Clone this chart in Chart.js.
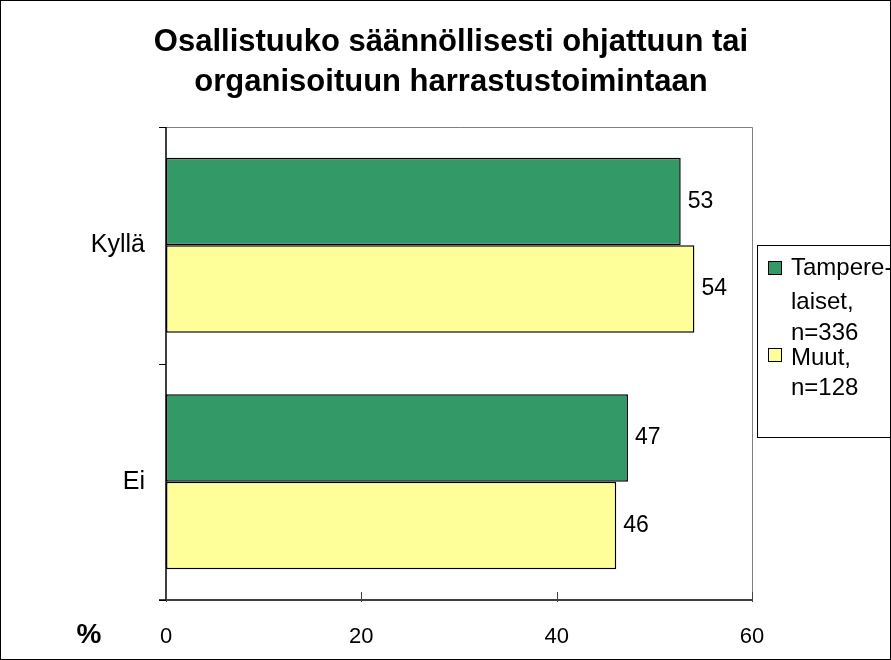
<!DOCTYPE html>
<html>
<head>
<meta charset="utf-8">
<script src="https://cdn.jsdelivr.net/npm/chart.js@4"></script>
<style>
  html, body { margin: 0; padding: 0; background: #fff; }
  #wrap { width: 891px; height: 660px; }
</style>
</head>
<body>
<div id="wrap"><canvas id="chart" width="891" height="660"></canvas></div>
<script>
// Data
const categories = ['Kyllä', 'Ei'];
const tampere = [52.7, 47.3];
const muut = [54.1, 46.1];
const seriesNames = [['Tampere-', 'laiset,', 'n=336'], ['Muut,', 'n=128']];
const xTicks = [0, 20, 40, 60];
const titleLines = ['Osallistuuko säännöllisesti ohjattuun tai', 'organisoituun harrastustoimintaan'];

const GREEN = '#339966', YELLOW = '#FFFF99';
const FONT = '"Liberation Sans", Arial, sans-serif';

// frame, title, axis ticks, value labels, legend
const decor = {
    id: 'decor',
    beforeDraw(chart) {
        const c = chart.ctx;
        c.save();
        c.fillStyle = '#fff';
        c.fillRect(0, 0, chart.width, chart.height);
        c.restore();
    },
    afterDraw(chart) {
        const c = chart.ctx, a = chart.chartArea;
        const xs = chart.scales.x;
        c.save();
        // plot border (top/right grey)
        c.strokeStyle = '#808080';
        c.lineWidth = 1;
        c.beginPath();
        c.moveTo(a.left, a.top + 0.5); c.lineTo(a.right + 0.5, a.top + 0.5); c.lineTo(a.right + 0.5, a.bottom);
        c.stroke();
        // axes
        c.strokeStyle = '#000';
        c.lineWidth = 1.5;
        c.beginPath();
        c.moveTo(a.left, a.top); c.lineTo(a.left, a.bottom);
        c.moveTo(a.left - 7, a.bottom); c.lineTo(a.right, a.bottom);
        c.stroke();
        // x ticks (inside)
        c.strokeStyle = '#444';
        c.lineWidth = 1;
        xTicks.forEach(v => {
            const px = Math.round(xs.getPixelForValue(v)) + 0.5;
            c.beginPath(); c.moveTo(px, a.bottom - 8); c.lineTo(px, a.bottom + 2); c.stroke();
        });
        // y ticks at category boundaries
        c.strokeStyle = '#000';
        for (let i = 0; i <= categories.length; i++) {
            const py = Math.round(a.top + (a.bottom - a.top) * i / categories.length) + 0.5;
            c.beginPath(); c.moveTo(a.left - 7, py); c.lineTo(a.left, py); c.stroke();
        }
        // title
        c.fillStyle = '#000';
        c.font = 'bold 31px ' + FONT;
        c.textAlign = 'center';
        c.textBaseline = 'middle';
        c.fillText(titleLines[0], 451, 42);
        c.fillText(titleLines[1], 451, 82);
        // % label
        c.font = 'bold 28px ' + FONT;
        c.fillText('%', 89, 635);
        // value labels
        c.font = '23px ' + FONT;
        c.textAlign = 'left';
        chart.data.datasets.forEach((ds, di) => {
            chart.getDatasetMeta(di).data.forEach((bar, i) => {
                c.fillText(Math.round(ds.data[i]), bar.x + 7, bar.y);
            });
        });
        // legend
        c.fillStyle = '#fff';
        c.fillRect(757, 245, 140, 192);
        c.strokeStyle = '#000';
        c.lineWidth = 1;
        c.strokeRect(757.5, 245.5, 140, 192);
        const items = [
            { color: GREEN, y: 267, lines: seriesNames[0] },
            { color: YELLOW, y: 354, lines: seriesNames[1] }
        ];
        c.font = '24px ' + FONT;
        c.textBaseline = 'middle';
        const lineY = [[268, 302, 333], [358, 388]];
        items.forEach((it, k) => {
            c.fillStyle = it.color;
            c.fillRect(768, it.y - 6, 13, 13);
            c.strokeStyle = '#000';
            c.strokeRect(768.5, it.y - 5.5, 13, 13);
            c.fillStyle = '#000';
            it.lines.forEach((t, j) => c.fillText(t, 791, lineY[k][j]));
        });
        // outer frame
        c.strokeStyle = '#000';
        c.lineWidth = 1;
        c.strokeRect(0.5, 0.5, chart.width - 1, chart.height - 1);
        c.restore();
    }
};

new Chart(document.getElementById('chart'), {
    type: 'bar',
    data: {
        labels: categories,
        datasets: [
            { label: 'Tamperelaiset, n=336', data: tampere, backgroundColor: GREEN, borderColor: '#000', borderWidth: 1.5, borderSkipped: false },
            { label: 'Muut, n=128', data: muut, backgroundColor: YELLOW, borderColor: '#000', borderWidth: 1.5, borderSkipped: false }
        ]
    },
    options: {
        indexAxis: 'y',
        responsive: false,
        animation: false,
        layout: { padding: { left: 0, right: 139, top: 127, bottom: 0 } },
        datasets: { bar: { categoryPercentage: 0.74, barPercentage: 1 } },
        scales: {
            x: {
                min: 0, max: 60,
                afterBuildTicks: s => { s.ticks = xTicks.map(v => ({ value: v })); },
                afterFit: s => { s.height = 60; },
                grid: { display: false },
                border: { display: false },
                ticks: { color: '#000', font: { family: FONT, size: 22 }, padding: 16 }
            },
            y: {
                afterFit: s => { s.width = 166; },
                grid: { display: false },
                border: { display: false },
                ticks: { color: '#000', font: { family: FONT, size: 25 }, padding: 13 }
            }
        },
        plugins: {
            legend: { display: false },
            title: { display: false },
            tooltip: { enabled: false }
        }
    },
    plugins: [decor]
});
</script>
</body>
</html>
